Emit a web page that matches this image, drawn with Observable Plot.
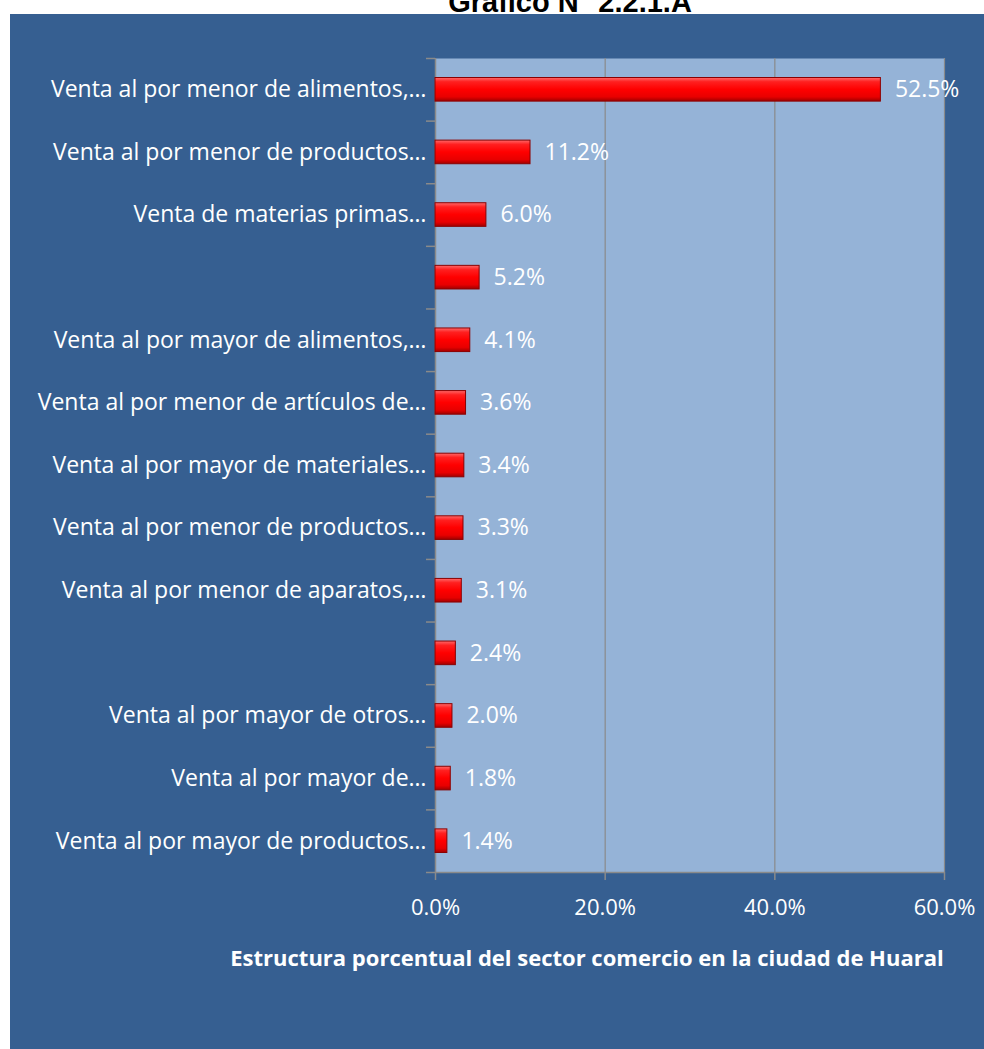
<!DOCTYPE html>
<html>
<head>
<meta charset="utf-8">
<script src="https://cdn.jsdelivr.net/npm/d3@7"></script>
<script src="https://cdn.jsdelivr.net/npm/@observablehq/plot@0.6"></script>
<style>
  html, body { margin: 0; padding: 0; background: #ffffff; width: 984px; height: 1049px; overflow: hidden; }
  #title { position: absolute; left: 0; top: 0; }
  #panel { position: absolute; left: 10px; top: 14px; width: 974px; height: 1035px; background: #365f91; }
  #chart { position: absolute; left: 0; top: 0; }
  #xtitle { position: absolute; left: 0; top: 928px; width: 1154px; text-align: center; color: #ffffff;
            font-family: "Open Sans", Lato, sans-serif; font-weight: bold; font-size: 22px; white-space: nowrap; }
</style>
</head>
<body>
<svg id="title" width="984" height="14">
  <text x="570" y="12" text-anchor="middle" font-family="'Liberation Sans', Arial, sans-serif" font-weight="bold" font-size="29" fill="#000">Gráfico N° 2.2.1.A</text>
</svg>
<div id="panel">
  <div id="chart"></div>
  <div id="xtitle">Estructura porcentual del sector comercio en la ciudad de Huaral</div>
</div>
<script>
const categories = [
  "Venta al por menor de alimentos,…",
  "Venta al por menor de productos…",
  "Venta de materias primas…",
  "",
  "Venta al por mayor de alimentos,…",
  "Venta al por menor de artículos de…",
  "Venta al por mayor de materiales…",
  "Venta al por menor de productos…",
  "Venta al por menor de aparatos,…",
  "",
  "Venta al por mayor de otros…",
  "Venta al por mayor de…",
  "Venta al por mayor de productos…"
];
const values = [52.5, 11.2, 6.0, 5.2, 4.1, 3.6, 3.4, 3.3, 3.1, 2.4, 2.0, 1.8, 1.4];
const xTicks = [0, 20, 40, 60];

const rows = categories.map((c, i) => ({i, label: c, value: values[i]}));
const gray = "#8a8a8a";

const plot = Plot.plot({
  width: 974,
  height: 930,
  marginTop: 44,
  marginBottom: 72,
  marginLeft: 425,
  marginRight: 40,
  style: {fontFamily: "'Open Sans', Lato, sans-serif", fontSize: "23px", color: "#ffffff", background: "transparent"},
  x: {domain: [0, 60]},
  y: {domain: [0, categories.length], reverse: true},
  marks: [
    Plot.frame({fill: "#95b3d7", stroke: null}),
    Plot.gridX({ticks: xTicks.slice(1), stroke: gray, strokeOpacity: 1, strokeWidth: 1.2}),
    Plot.ruleX([0], {stroke: gray, strokeWidth: 1.5}),
    Plot.ruleY([categories.length], {stroke: gray, strokeWidth: 1.5}),
    Plot.axisY({ticks: d3.range(categories.length + 1), tickSize: 9, tickFormat: () => "", stroke: gray, strokeWidth: 1.5, label: null}),
    Plot.axisY({ticks: rows.map(d => d.i + 0.5), tickSize: 0, tickPadding: 9, tickFormat: v => categories[Math.floor(v)], fill: "#ffffff", label: null}),
    Plot.axisX({ticks: xTicks, tickSize: 8, tickPadding: 19, tickFormat: d => d.toFixed(1) + "%", stroke: gray, strokeWidth: 1.5, fill: "#ffffff", label: null, fontSize: "22px"}),
    Plot.rectX(rows, {x1: 0, x2: "value", y1: "i", y2: d => d.i + 1, insetTop: 19.5, insetBottom: 19.5,
      fill: "url(#redgrad)", stroke: "#8b0000", strokeWidth: 1}),
    Plot.text(rows, {x: "value", y: d => d.i + 0.5, text: d => d.value.toFixed(1) + "%", textAnchor: "start", dx: 14, fill: "#ffffff"})
  ]
});

const defs = document.createElementNS("http://www.w3.org/2000/svg", "defs");
defs.innerHTML = `
  <linearGradient id="redgrad" x1="0" y1="0" x2="0" y2="1">
    <stop offset="0" stop-color="#ff6a6a"/>
    <stop offset="0.18" stop-color="#ff2020"/>
    <stop offset="0.5" stop-color="#ff0000"/>
    <stop offset="0.82" stop-color="#e80000"/>
    <stop offset="1" stop-color="#a00000"/>
  </linearGradient>`;
plot.insertBefore(defs, plot.firstChild);
document.getElementById("chart").appendChild(plot);
</script>
</body>
</html>
